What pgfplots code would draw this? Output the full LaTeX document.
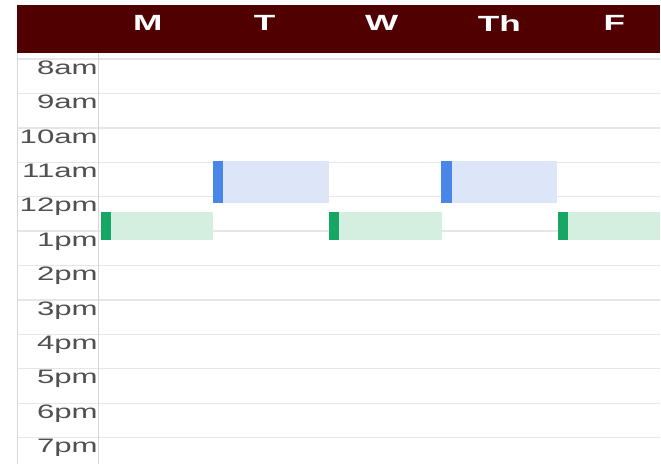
\documentclass[border=0pt]{standalone}
\usepackage{fontspec}
\setmainfont{Liberation Sans}
\newfontfamily\labfont[FakeStretch=1.6]{Liberation Sans}
\newfontfamily\hdrfont[FakeStretch=1.6]{Liberation Sans}
\usepackage{pgfplots}
\pgfplotsset{compat=1.18}
\definecolor{hdr}{HTML}{500000}
\definecolor{labgray}{HTML}{505050}
\definecolor{gridgray}{HTML}{E6E6E6}
\definecolor{bordergray}{HTML}{D6D6D6}
\definecolor{bluedark}{HTML}{4A86E8}
\definecolor{bluelight}{HTML}{DCE6F8}
\definecolor{greendark}{HTML}{16A765}
\definecolor{greenlight}{HTML}{D4EEE0}
\begin{document}
\begin{tikzpicture}
\begin{axis}[
  set layers,
  width=644pt, height=464pt, scale only axis,
  xmin=-0.7249, xmax=4.8996,
  ymin=6.2874, ymax=19.7562, y dir=reverse,
  axis line style={draw=none},
  major tick length=0pt,
  xtick={0.419,1.441,2.463,3.493,4.498},
  xticklabels={M,T,W,Th,F},
  xticklabel style={font=\hdrfont\bfseries\fontsize{22}{22}\selectfont, text=white, anchor=center, inner sep=0pt, yshift=441pt},
  ytick={8,...,19},
  yticklabels={8am,9am,10am,11am,12pm,1pm,2pm,3pm,4pm,5pm,6pm,7pm},
  yticklabel style={font=\labfont\fontsize{19.5}{20}\selectfont, text=labgray, anchor=north east, inner sep=0pt, xshift=81pt, yshift=-1.5pt},
  ymajorgrids, grid style={gridgray, line width=1.3pt},
  clip=false,
]
% header bar (background layer, so the day labels lie on it)
\begin{pgfonlayer}{axis background}
\fill[hdr] (axis cs:-0.7249,6.4325) rectangle (axis cs:4.8996,7.8113);
\end{pgfonlayer}
% borders of time column
\draw[bordergray, line width=1.5pt] (axis cs:-0.7205,7.826) -- (axis cs:-0.7205,19.7562);
\draw[bordergray, line width=1.5pt] (axis cs:-0.0131,7.826) -- (axis cs:-0.0131,19.7562);
% Tuesday / Thursday events (blue)
\addplot[fill=bluelight, draw=none] coordinates {(0.990,10.96) (2.000,10.96) (2.000,12.17) (0.990,12.17)};
\addplot[fill=bluedark, draw=none] coordinates {(0.990,10.96) (1.080,10.96) (1.080,12.17) (0.990,12.17)};
\addplot[fill=bluelight, draw=none] coordinates {(2.985,10.96) (4.000,10.96) (4.000,12.17) (2.985,12.17)};
\addplot[fill=bluedark, draw=none] coordinates {(2.985,10.96) (3.075,10.96) (3.075,12.17) (2.985,12.17)};
% Monday / Wednesday / Friday events (green)
\addplot[fill=greenlight, draw=none] coordinates {(0.006,12.45) (0.990,12.45) (0.990,13.27) (0.006,13.27)};
\addplot[fill=greendark, draw=none] coordinates {(0.006,12.45) (0.096,12.45) (0.096,13.27) (0.006,13.27)};
\addplot[fill=greenlight, draw=none] coordinates {(2.003,12.45) (2.990,12.45) (2.990,13.27) (2.003,13.27)};
\addplot[fill=greendark, draw=none] coordinates {(2.003,12.45) (2.093,12.45) (2.093,13.27) (2.003,13.27)};
\addplot[fill=greenlight, draw=none] coordinates {(4.003,12.45) (4.8996,12.45) (4.8996,13.27) (4.003,13.27)};
\addplot[fill=greendark, draw=none] coordinates {(4.003,12.45) (4.093,12.45) (4.093,13.27) (4.003,13.27)};
\end{axis}
\path ([xshift=-17pt]current axis.south west) rectangle (current axis.north east);
\end{tikzpicture}
\end{document}
